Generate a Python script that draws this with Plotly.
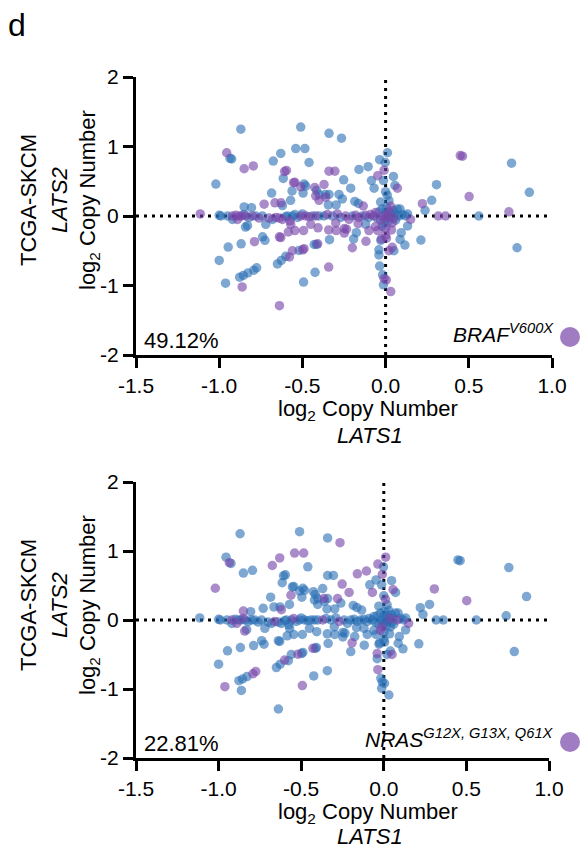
import plotly.graph_objects as go

# ---- data ----
lats1 = [
    -0.87, -0.51, -0.34, -0.265, -0.54, -0.485, -0.955, -0.935, -0.925, -0.85,
    -0.795, -0.675, -0.63, -0.46, -1.02, -0.607, -0.596, -0.615, -0.553, -0.545,
    -0.49, -0.48, -0.51, -0.685, -0.562, -0.496, -0.426, -0.37, -0.34, -0.305,
    -0.252, -0.21, -0.16, -0.105, -0.085, -0.069, -0.036, 0.011, -0.002, -0.009,
    -0.047, -0.013, 0.047, 0.056, 0.071, 0.0, -0.415, -0.40, -0.42, -0.362,
    -0.34, -0.28, -0.26, -0.40, -0.36, -0.344, -0.297, -0.185, -0.163, -0.134,
    -0.73, -0.665, -0.628, -0.571, -0.62, -0.85, -0.806, -1.114, -1.0, -0.99,
    -0.95, -0.92, -0.90, -0.89, -0.88, -0.865, -0.85, -0.84, -0.82, -0.80,
    -0.78, -0.76, -0.74, -0.70, -0.68, -0.66, -0.64, -0.62, -0.60, -0.59,
    -0.575, -0.56, -0.545, -0.53, -0.51, -0.50, -0.48, -0.46, -0.44, -0.42,
    -0.40, -0.37, -0.35, -0.32, -0.29, -0.27, -0.24, -0.22, -0.20, -0.18,
    -0.16, -0.14, -0.12, -0.10, -0.09, -0.07, -0.06, -0.05, -0.04, -0.03,
    -0.02, -0.015, -0.01, 0.0, 0.0, 0.005, 0.01, 0.015, 0.02, 0.025,
    0.03, 0.035, 0.04, 0.045, 0.05, 0.055, 0.06, 0.07, 0.08, 0.10,
    0.12, -0.03, 0.02, 0.0, -0.02, 0.035, 0.01, 0.449, 0.462, 0.757,
    0.864, 0.306, 0.502, 0.277, 0.221, 0.237, 0.741, 0.56, 0.317, 0.36,
    0.79, 0.212, 0.132, 0.094, 0.087, 0.116, 0.15, 0.132, 0.087, 0.0,
    0.005, -0.025, -0.04, -0.04, 0.02, 0.05, 0.04, -0.036, -0.018, -0.009,
    0.004, -0.013, 0.031, -1.0, -0.962, -0.946, -0.868, -0.842, -0.788, -0.739,
    -0.725, -0.862, -0.877, -0.855, -0.828, -0.792, -0.775, -0.638, -0.65, -0.627,
    -0.60, -0.578, -0.56, -0.52, -0.498, -0.49, -0.493, -0.424, -0.342, -0.429,
    -0.415, -0.408, -0.337, -0.638, -0.63, -0.585, -0.545, -0.493, -0.406, -0.342,
    -0.297, -0.248, -0.235, -0.248, -0.20, -0.192, -0.118, -0.10, -0.047, -0.029,
    -0.176, -0.165, -0.83, -0.92, -0.72, -0.57, -0.45, -0.30, -0.12, -0.06,
]
lats2 = [
    1.25, 1.28, 1.19, 1.12, 0.97, 0.97, 0.91, 0.83, 0.82, 0.68,
    0.72, 0.79, 0.90, 0.77, 0.46, 0.64, 0.655, 0.54, 0.48, 0.485,
    0.46, 0.43, 0.42, 0.33, 0.36, 0.33, 0.41, 0.455, 0.645, 0.645,
    0.52, 0.40, 0.67, 0.71, 0.51, 0.40, 0.81, 0.91, 0.77, 0.66,
    0.58, 0.51, 0.57, 0.44, 0.40, 0.35, 0.37, 0.31, 0.29, 0.31,
    0.31, 0.31, 0.245, 0.226, 0.27, 0.16, 0.16, 0.21, 0.18, 0.144,
    0.17, 0.19, 0.19, 0.226, 0.15, 0.13, 0.12, 0.03, 0.01, 0.0,
    0.0, 0.0, 0.01, -0.05, 0.0, 0.0, 0.02, 0.0, -0.02, 0.0,
    0.0, -0.03, 0.0, -0.03, -0.05, -0.02, -0.03, -0.05, -0.01, 0.0,
    -0.07, 0.0, 0.02, -0.02, 0.0, 0.03, 0.0, -0.01, 0.0, 0.0,
    0.0, 0.0, 0.02, 0.0, 0.03, -0.02, 0.0, -0.05, 0.0, 0.01,
    -0.02, 0.0, 0.01, -0.02, 0.02, 0.0, 0.05, -0.03, 0.06, -0.06,
    0.10, 0.0, -0.10, 0.04, -0.04, 0.12, 0.0, -0.08, 0.06, -0.02,
    0.14, 0.02, -0.10, 0.08, -0.03, 0.03, -0.06, 0.10, 0.0, 0.02,
    0.0, 0.20, 0.22, -0.18, -0.15, -0.20, 0.30, 0.87, 0.86, 0.76,
    0.34, 0.45, 0.28, 0.226, 0.178, 0.08, 0.06, 0.0, 0.0, 0.0,
    -0.457, -0.346, -0.144, -0.24, -0.337, -0.418, -0.05, 0.03, 0.10, -0.28,
    -0.32, -0.33, -0.486, -0.56, -0.50, -0.50, -0.45, -0.72, -0.846, -0.90,
    -0.92, -0.99, -1.087, -0.64, -0.966, -0.447, -0.40, -0.16, -0.37, -0.30,
    -0.35, -1.02, -0.88, -0.855, -0.82, -0.78, -0.745, -1.29, -0.69, -0.64,
    -0.58, -0.59, -0.50, -0.495, -0.486, -0.47, -0.95, -0.81, -0.735, -0.41,
    -0.41, -0.40, -0.34, -0.30, -0.31, -0.23, -0.21, -0.21, -0.17, -0.20,
    -0.21, -0.18, -0.19, -0.245, -0.457, -0.33, -0.365, -0.21, -0.21, -0.35,
    -0.24, -0.11, -0.14, -0.05, -0.12, -0.12, -0.12, -0.10, -0.12, -0.15,
]
braf_mut = [
    0, 0, 0, 0, 0, 0, 1, 0, 0, 1,
    1, 0, 0, 0, 0, 1, 1, 0, 1, 1,
    0, 0, 1, 0, 0, 0, 1, 1, 1, 1,
    0, 0, 0, 0, 0, 0, 0, 0, 0, 1,
    1, 0, 0, 0, 1, 0, 0, 0, 1, 0,
    0, 0, 0, 1, 1, 0, 0, 0, 0, 1,
    1, 1, 1, 0, 0, 0, 0, 1, 0, 0,
    0, 1, 1, 1, 1, 1, 0, 1, 0, 1,
    0, 1, 0, 1, 0, 1, 1, 1, 0, 0,
    1, 0, 0, 0, 1, 0, 1, 1, 0, 1,
    0, 0, 1, 0, 1, 0, 1, 1, 0, 1,
    1, 0, 1, 0, 1, 1, 1, 0, 0, 1,
    0, 1, 0, 0, 1, 0, 1, 0, 1, 0,
    1, 0, 1, 0, 1, 0, 0, 0, 0, 0,
    0, 0, 0, 1, 0, 1, 0, 1, 1, 0,
    0, 0, 1, 0, 1, 0, 1, 0, 1, 1,
    0, 0, 0, 0, 0, 0, 1, 0, 0, 1,
    1, 1, 0, 0, 1, 0, 1, 0, 0, 1,
    1, 0, 1, 0, 0, 0, 0, 0, 1, 0,
    0, 1, 0, 0, 0, 0, 0, 1, 0, 0,
    0, 1, 1, 0, 1, 1, 0, 0, 1, 0,
    0, 1, 0, 1, 1, 1, 1, 1, 1, 1,
    1, 1, 1, 1, 1, 0, 1, 1, 1, 0,
    0, 1, 0, 0, 0, 1, 1, 1, 0, 1,
]
nras_mut = [
    0, 0, 0, 1, 1, 1, 0, 1, 0, 0,
    0, 1, 1, 0, 1, 0, 0, 0, 0, 0,
    0, 0, 0, 0, 1, 0, 0, 0, 0, 0,
    1, 1, 1, 1, 0, 1, 1, 1, 0, 1,
    0, 0, 0, 1, 0, 0, 0, 0, 0, 1,
    0, 1, 0, 0, 0, 0, 0, 0, 0, 0,
    0, 0, 0, 0, 1, 1, 0, 0, 0, 0,
    0, 1, 0, 1, 0, 0, 1, 0, 0, 0,
    0, 0, 0, 0, 0, 1, 0, 0, 0, 0,
    0, 0, 1, 0, 0, 0, 0, 0, 0, 0,
    0, 1, 0, 0, 0, 1, 0, 0, 0, 0,
    0, 0, 0, 0, 0, 0, 0, 0, 0, 0,
    0, 0, 1, 0, 0, 0, 0, 0, 0, 0,
    0, 1, 0, 0, 0, 0, 0, 0, 1, 0,
    0, 0, 0, 0, 1, 0, 1, 0, 0, 0,
    0, 1, 1, 0, 0, 0, 0, 0, 0, 0,
    0, 0, 0, 0, 0, 0, 1, 0, 0, 0,
    0, 0, 1, 0, 0, 1, 0, 1, 0, 0,
    0, 0, 0, 0, 1, 0, 0, 1, 0, 0,
    0, 0, 0, 0, 0, 1, 1, 0, 0, 0,
    1, 0, 0, 1, 0, 0, 1, 0, 0, 1,
    0, 0, 0, 0, 0, 0, 0, 0, 0, 0,
    0, 0, 0, 0, 0, 1, 0, 0, 0, 0,
    0, 0, 0, 0, 0, 0, 0, 0, 0, 0,
]
panel_genes = ["BRAF", "NRAS"]
panel_mutations = ["V600X", "G12X, G13X, Q61X"]
panel_percent = ["49.12%", "22.81%"]
x_ticks = [-1.5, -1.0, -0.5, 0.0, 0.5, 1.0]
x_ticktext = ["-1.5", "-1.0", "-0.5", "0.0", "0.5", "1.0"]
y_ticks = [-2, -1, 0, 1, 2]
y_ticktext = ["-2", "-1", "0", "1", "2"]

# ---- styling ----
W, H = 581, 852
FONT = "Liberation Sans, Arial, sans-serif"
BLUE = "rgba(40,110,180,0.6)"
PURPLE = "rgba(120,70,170,0.62)"


def px(x):
    return x / W


def py(y):
    return 1 - y / H


fig = go.Figure()
flags = [braf_mut, nras_mut]
# pixel layout of each panel: (left, right, top, bottom)
panels = [(136, 552, 77, 355), (136, 549, 482, 758)]

for i, flag in enumerate(flags):
    xa = "x" if i == 0 else "x2"
    ya = "y" if i == 0 else "y2"
    mx = [a for a, f in zip(lats1, flag) if f == 1]
    my = [b for b, f in zip(lats2, flag) if f == 1]
    wx = [a for a, f in zip(lats1, flag) if f == 0]
    wy = [b for b, f in zip(lats2, flag) if f == 0]
    fig.add_trace(go.Scatter(x=wx, y=wy, mode="markers", xaxis=xa, yaxis=ya,
                             marker=dict(size=9.5, color=BLUE, line=dict(width=0)),
                             showlegend=False, cliponaxis=False))
    fig.add_trace(go.Scatter(x=mx, y=my, mode="markers", xaxis=xa, yaxis=ya,
                             marker=dict(size=9.5, color=PURPLE, line=dict(width=0)),
                             showlegend=False, cliponaxis=False))

axis_common = dict(showline=True, linecolor="black", linewidth=3, ticks="outside",
                   ticklen=10, tickwidth=3, tickcolor="black", showgrid=False,
                   zeroline=False, automargin=False,
                   tickfont=dict(family=FONT, size=21, color="black"))

layout = dict(template="none", width=W, height=H,
              margin=dict(l=0, r=0, t=0, b=0, pad=0, autoexpand=False), autosize=False,
              paper_bgcolor="white", plot_bgcolor="white", showlegend=False)
shapes = []
annotations = []
for i, (l, r, t, b) in enumerate(panels):
    sfx = "" if i == 0 else "2"
    layout["xaxis" + sfx] = dict(axis_common, domain=[px(l), px(r)], range=[-1.5, 1.0],
                                 tickvals=x_ticks, ticktext=x_ticktext,
                                 anchor="y" + sfx)
    layout["yaxis" + sfx] = dict(axis_common, domain=[py(b), py(t)], range=[-2, 2],
                                 tickvals=y_ticks, ticktext=y_ticktext,
                                 anchor="x" + sfx)
    dot = dict(color="black", width=3, dash="3px,5px")
    shapes.append(dict(type="line", xref="x" + sfx, yref="y" + sfx, x0=-1.5, x1=1.0,
                       y0=0, y1=0, line=dot, layer="below"))
    shapes.append(dict(type="line", xref="x" + sfx, yref="y" + sfx, x0=0, x1=0,
                       y0=-2, y1=2, line=dot, layer="below"))
    off = 0 if i == 0 else 405
    # y-axis title (three rotated lines)
    for xpos, txt in [(28, "TCGA-SKCM"), (59, "<i>LATS2</i>"),
                      (89, "log<sub>2</sub> Copy Number")]:
        annotations.append(dict(x=px(xpos), y=py(200 + off), xref="paper", yref="paper",
                                text=txt, textangle=-90, showarrow=False,
                                xanchor="center", yanchor="middle",
                                font=dict(family=FONT, size=22, color="black")))
    # x-axis title
    annotations.append(dict(x=px(368), y=py(410 + off - (2 if i else 0)), xref="paper",
                            yref="paper", text="log<sub>2</sub> Copy Number",
                            showarrow=False, xanchor="center", yanchor="middle",
                            font=dict(family=FONT, size=22, color="black")))
    annotations.append(dict(x=px(370), y=py(435 + off - (4 if i else 0)), xref="paper",
                            yref="paper", text="<i>LATS1</i>", showarrow=False,
                            xanchor="center", yanchor="middle",
                            font=dict(family=FONT, size=22, color="black")))
    # percentage
    annotations.append(dict(x=px(142), y=py(340 + off - (2 if i else 0)), xref="paper",
                            yref="paper", text=panel_percent[i], showarrow=False,
                            xanchor="left", yanchor="middle",
                            font=dict(family=FONT, size=22, color="black")))
    # mutation label + legend circle
    annotations.append(dict(x=px(556), y=py(333 + off), xref="paper", yref="paper",
                            text="<i>%s<sup>%s</sup></i>" % (panel_genes[i], panel_mutations[i]),
                            showarrow=False, xanchor="right", yanchor="middle",
                            font=dict(family=FONT, size=21, color="black")))
    cy = 337 + off
    shapes.append(dict(type="circle", xref="paper", yref="paper",
                       x0=px(560), x1=px(580), y0=py(cy + 10), y1=py(cy - 10),
                       fillcolor="rgba(120,70,170,0.7)", line=dict(width=0)))

annotations.append(dict(x=px(6), y=py(25), xref="paper", yref="paper", text="d",
                        showarrow=False, xanchor="left", yanchor="middle",
                        font=dict(family=FONT, size=32, color="black")))
layout["shapes"] = shapes
layout["annotations"] = annotations
fig.update_layout(**layout)
fig.write_html("out.html")
